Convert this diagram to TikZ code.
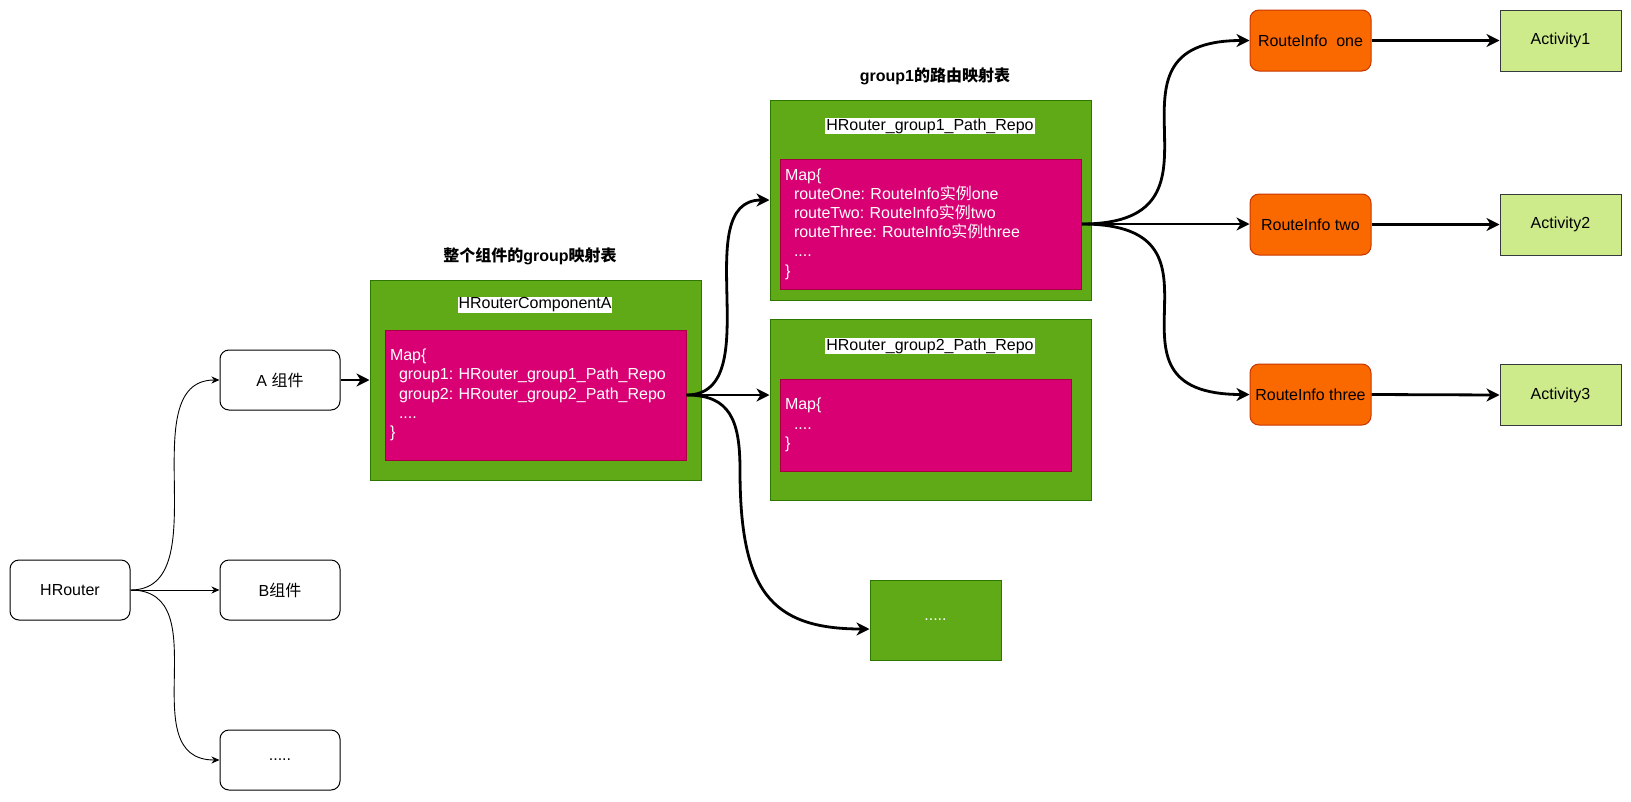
\documentclass[tikz,border=0pt]{standalone}
\usepackage{fontspec}
\setmainfont{Liberation Sans}
\newfontfamily\cjk{Noto Sans CJK SC}
\usetikzlibrary{arrows.meta,calc}
\newcommand\zh[1]{{\cjk #1}}
\frenchspacing
\definecolor{gfill}{HTML}{60A917}
\definecolor{gdraw}{HTML}{2D7600}
\definecolor{pfill}{HTML}{D80073}
\definecolor{pdraw}{HTML}{A50040}
\definecolor{ofill}{HTML}{FA6800}
\definecolor{odraw}{HTML}{C73500}
\definecolor{afill}{HTML}{CDEB8B}
\definecolor{adraw}{HTML}{36393D}
\begin{document}
\begin{tikzpicture}[x=1pt,y=-1pt,font=\fontsize{16}{19.2}\selectfont\frenchspacing,
  wbox/.style={draw=black,fill=white,rounded corners=9pt,minimum width=120pt,minimum height=60pt,inner sep=0pt,line width=1pt},
  gbox/.style={draw=gdraw,fill=gfill,line width=1pt,inner sep=0pt},
  pbox/.style={draw=pdraw,fill=pfill,line width=1pt,text=white,align=left,inner xsep=5pt,inner ysep=0pt},
  rbox/.style={draw=odraw,fill=ofill,rounded corners=9pt,minimum width=121pt,minimum height=61pt,inner sep=0pt,line width=1pt},
  abox/.style={draw=adraw,fill=afill,minimum width=121pt,minimum height=61pt,inner sep=0pt,line width=1pt},
  ttl/.style={fill=white,inner xsep=1pt,inner ysep=0.5pt},
  hdr/.style={font=\fontsize{16}{19.2}\selectfont\bfseries},
  tarrow/.style={-{Stealth[length=8pt,width=7pt,inset=2.5pt]},line width=0.9pt},
  barrow/.style={-{Stealth[length=13pt,width=13pt,inset=4pt]},line width=2.8pt},
  curvy/.style={to path={let \p1=(\tikztostart), \p2=(\tikztotarget) in .. controls (\x2,\y1) and (\x1,\y2) .. (\tikztotarget)}}
]
\useasboundingbox (0,0) rectangle (1631,801);

% left column
\node[wbox] (hr) at (70,590) {HRouter};
\node[wbox] (ca) at (280,380) {A \zh{组件}};
\node[wbox] (cb) at (280,590) {B\zh{组件}};
\node[wbox] (cd) at (280,760) {.....};

% component A map
\node[hdr] (la) at (530,256) {\zh{整个组件的}group\zh{映射表}};
\node[gbox,minimum width=331pt,minimum height=200pt] (ga) at (535.5,380) {};
\node[ttl] (ta) at (535,305) {HRouterComponentA};
\node[pbox,minimum width=301pt,minimum height=130pt,text width=291pt] (pa) at (535.5,395) {Map\{\\
\hspace*{9pt}group1: HRouter\_group1\_Path\_Repo\\
\hspace*{9pt}group2: HRouter\_group2\_Path\_Repo\\
\hspace*{9pt}....\\
\}};

% group1 map
\node[hdr] (l1) at (935,76) {group1\zh{的路由映射表}};
\node[gbox,minimum width=321pt,minimum height=200pt] (g1) at (930.5,200) {};
\node[ttl] (t1) at (930,126) {HRouter\_group1\_Path\_Repo};
\node[pbox,minimum width=301pt,minimum height=130pt,text width=291pt] (p1) at (930.5,224) {Map\{\\
\hspace*{9pt}routeOne: RouteInfo\zh{实例}one\\
\hspace*{9pt}routeTwo: RouteInfo\zh{实例}two\\
\hspace*{9pt}routeThree: RouteInfo\zh{实例}three\\
\hspace*{9pt}....\\
\}};

% group2 map
\node[gbox,minimum width=321pt,minimum height=181pt] (g2) at (930.5,409.5) {};
\node[ttl] (t2) at (930,346) {HRouter\_group2\_Path\_Repo};
\node[pbox,minimum width=291pt,minimum height=92pt,text width=281pt] (p2) at (925.5,425) {Map\{\\
\hspace*{9pt}....\\
\}};

% more groups
\node[gbox,minimum width=131pt,minimum height=80pt,text=white] (sm) at (935.5,620) {.....};

% route infos and activities
\node[rbox] (r1) at (1310.5,40.5) {RouteInfo\ \ one};
\node[rbox] (r2) at (1310.5,224.5) {RouteInfo two};
\node[rbox] (r3) at (1310.5,394.5) {RouteInfo three};
\node[abox] (a1) at (1560.5,40.5) {Activity1};
\node[abox] (a2) at (1560.5,224.5) {Activity2};
\node[abox] (a3) at (1560.5,395) {Activity3};

% connectors
\draw[tarrow] (hr.east) to[curvy] (ca.west);
\draw[tarrow] (hr.east) -- (cb.west);
\draw[tarrow] (hr.east) to[curvy] (cd.west);
\draw[barrow] (ca.east) -- (ga.west);
\draw[barrow] (pa.east) to[curvy] (g1.west);
\draw[barrow] (pa.east) -- (pa.east -| g2.west);
\draw[barrow] (pa.east) .. controls (730,395) and (740,420) .. (740,470)
  .. controls (740,590) and (770,629) .. ([yshift=-9pt]sm.west);
\draw[barrow] (p1.east) to[curvy] (r1.west);
\draw[barrow] (p1.east) -- (p1.east -| r2.west);
\draw[barrow] (p1.east) to[curvy] (r3.west);
\draw[barrow] (r1.east) -- (a1.west);
\draw[barrow] (r2.east) -- (a2.west);
\draw[barrow] (r3.east) -- (a3.west);
\end{tikzpicture}
\end{document}
